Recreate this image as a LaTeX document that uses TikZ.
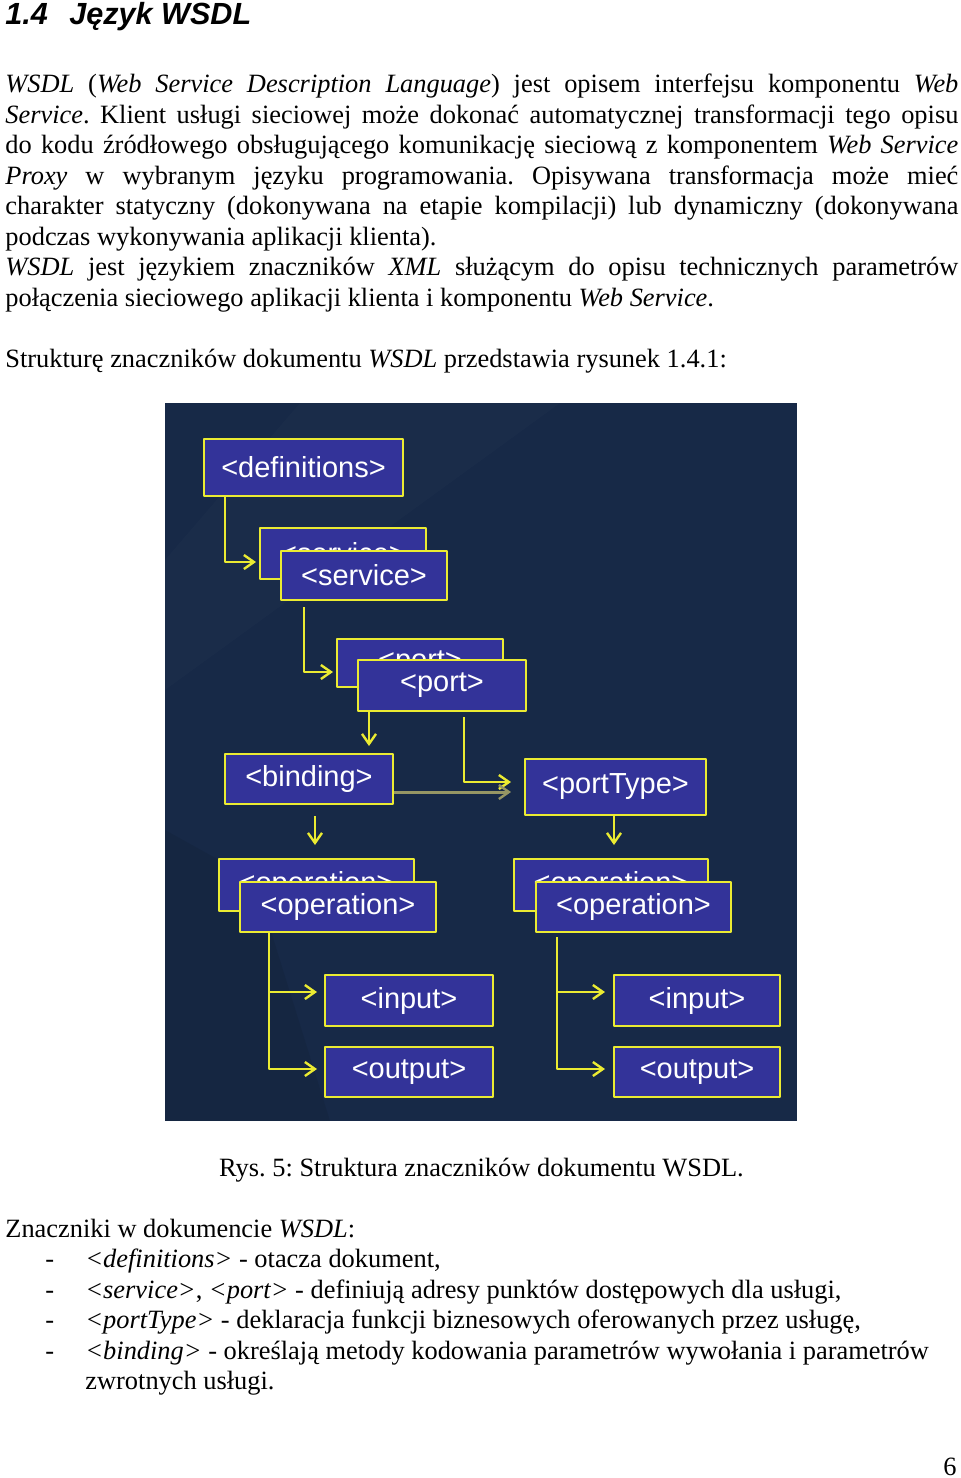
\documentclass[tikz,border=0pt]{standalone}
\usepackage{fontspec}
\setmainfont{Liberation Serif}
\setsansfont{Liberation Sans}
\usetikzlibrary{arrows.meta,calc}
\definecolor{wsnavy}{RGB}{23,41,71}
\definecolor{wsblue}{RGB}{51,51,153}
\definecolor{wsyellow}{RGB}{235,235,50}
\definecolor{wsolive}{RGB}{150,150,100}
\frenchspacing

\tikzset{
  bodytext/.style={inner sep=0pt, anchor=base west, font=\fontsize{13.2}{15}\selectfont},
  tagbox/.style={draw=wsyellow, fill=wsblue, line width=1pt, text=white, inner sep=0pt,
    font=\fontsize{14.5}{17}\sffamily, minimum width=83pt, minimum height=25pt},
  link/.style={draw=wsyellow, line width=1pt, shorten >=1.5pt,
    -{Straight Barb[length=5pt,width=7pt,line width=1.2pt]}}
}
\newcommand{\jline}[1]{\makebox[476.5pt][s]{#1}}

\begin{document}
\begin{tikzpicture}[x=0.5pt, y=-0.5pt, line join=round]
    \useasboundingbox (0,0) rectangle (960,1478);
    %Heading
    \node[bodytext, font=\fontsize{15.3}{18}\sffamily\bfseries\itshape] (title) at (5,24) {1.4\hspace{0.7em}Język WSDL};
    %Paragraph
    \node[bodytext] (l1) at (5,92) {\jline{\textit{WSDL} (\textit{Web Service Description Language}) jest opisem interfejsu komponentu \textit{Web}}};
    \node[bodytext] (l2) at (5,123) {\jline{\textit{Service}. Klient usługi sieciowej może dokonać automatycznej transformacji tego opisu}};
    \node[bodytext] (l3) at (5,153) {\jline{do kodu źródłowego obsługującego komunikację sieciową z komponentem \textit{Web Service}}};
    \node[bodytext] (l4) at (5,184) {\jline{\textit{Proxy} w wybranym języku programowania. Opisywana transformacja może mieć}};
    \node[bodytext] (l5) at (5,214) {\jline{charakter statyczny (dokonywana na etapie kompilacji) lub dynamiczny (dokonywana}};
    \node[bodytext] (l6) at (5,245) {podczas wykonywania aplikacji klienta).};
    \node[bodytext] (l7) at (5,275) {\jline{\textit{WSDL} jest językiem znaczników \textit{XML} służącym do opisu technicznych parametrów}};
    \node[bodytext] (l8) at (5,306) {połączenia sieciowego aplikacji klienta i komponentu \textit{Web Service}.};
    \node[bodytext] (l9) at (5,367) {Strukturę znaczników dokumentu \textit{WSDL} przedstawia rysunek 1.4.1:};

    %Figure background
    \fill[wsnavy] (165,403) rectangle (797,1121);
    \fill[white, opacity=0.015] (300,403) -- (560,403) -- (165,690) -- (165,560) -- cycle;
    \fill[black, opacity=0.07] (165,830) -- (255,880) -- (330,1121) -- (165,1121) -- cycle;

    %Tags
    \node[tagbox, minimum width=99.5pt, minimum height=28.5pt] (defs) at (303.5,467.5) {<definitions>};
    \node[tagbox, minimum height=25.5pt] (servB) at (343,553.5) {<service>};
    \node[tagbox, minimum height=24.5pt] (serv) at (364,575.5) {<service>};
    \node[tagbox, minimum height=24pt] (portB) at (420,663) {<port>};
    \node[tagbox, minimum width=84pt, minimum height=25.5pt] (port) at (442,685.5) {<port>};
    \node[tagbox, minimum width=84pt] (bind) at (309,779) {<binding>};
    \node[tagbox, minimum width=90.5pt, minimum height=28pt] (ptype) at (615.5,787) {<portType>};
    \node[tagbox, minimum width=97.5pt, minimum height=26pt] (opLB) at (316,885) {<operation>};
    \node[tagbox, minimum width=98pt] (opL) at (338,907) {<operation>};
    \node[tagbox, minimum width=97pt, minimum height=26pt] (opRB) at (611,885) {<operation>};
    \node[tagbox, minimum width=97.5pt] (opR) at (633.5,907) {<operation>};
    \node[tagbox, minimum width=84pt, minimum height=25.5pt] (inL) at (409,1000.5) {<input>};
    \node[tagbox, minimum width=84pt] (outL) at (409,1072) {<output>};
    \node[tagbox, minimum height=25.5pt] (inR) at (697,1000.5) {<input>};
    \node[tagbox] (outR) at (697,1072) {<output>};

    %Links
    \draw[link] ([xshift=11pt]defs.south west) |- ([yshift=-4.25pt]servB.west);
    \draw[link, shorten <=3pt] ([xshift=11.8pt]serv.south west) |- ([yshift=-4.5pt]portB.west);
    \draw[link, shorten >=3.5pt] ([xshift=6pt]port.south west) -- ([xshift=6pt]port.south west |- bind.north);
    \draw[link, shorten <=2.5pt, shorten >=6.5pt] ([xshift=53.5pt]port.south west) |- ([yshift=2.5pt]ptype.west);
    \draw[link, draw=wsolive, line width=1.5pt, shorten >=6.5pt] ([yshift=-6.5pt]bind.east) -- ([yshift=-6.5pt]bind.east -| ptype.west);
    \draw[link, shorten <=5.5pt, shorten >=6.5pt] ([xshift=3pt]bind.south) -- ([xshift=3pt]bind.south |- opLB.north);
    \draw[link, shorten >=6.5pt] ([xshift=-0.75pt]ptype.south) -- ([xshift=-0.75pt]ptype.south |- opRB.north);
        %Left operation
    \draw[link, shorten >=3.5pt] ([xshift=15pt]opL.south west) |- ([yshift=4.25pt]inL.west);
    \draw[link, shorten >=3.5pt] ([xshift=15pt]opL.south west) |- ([yshift=1.5pt]outL.west);
        %Right operation
    \draw[link, shorten <=2pt, shorten >=4pt] ([xshift=11pt]opR.south west) |- ([yshift=4.25pt]inR.west);
    \draw[link, shorten <=2pt, shorten >=4pt] ([xshift=11pt]opR.south west) |- ([yshift=1.5pt]outR.west);

    %Caption
    \node[bodytext, anchor=base] (caption) at (481.5,1176) {Rys. 5: Struktura znaczników dokumentu WSDL.};
    %List
    \node[bodytext] (lhead) at (5,1237) {Znaczniki w dokumencie \textit{WSDL}:};
    \foreach \yy in {1267.5,1298,1328.5,1359}
        \node[bodytext] at (45,\yy) {-};
    \node[bodytext] (i1) at (85,1267.5) {\textit{<definitions>} - otacza dokument,};
    \node[bodytext] (i2) at (85,1298) {\textit{<service>}, \textit{<port>} - definiują adresy punktów dostępowych dla usługi,};
    \node[bodytext] (i3) at (85,1328.5) {\textit{<portType>} - deklaracja funkcji biznesowych oferowanych przez usługę,};
    \node[bodytext] (i4) at (85,1359) {\textit{<binding>} - określają metody kodowania parametrów wywołania i parametrów};
    \node[bodytext] (i5) at (85,1389.5) {zwrotnych usługi.};
    %Page number
    \node[bodytext, anchor=base east] (pagenum) at (957,1475) {6};
\end{tikzpicture}
\end{document}
